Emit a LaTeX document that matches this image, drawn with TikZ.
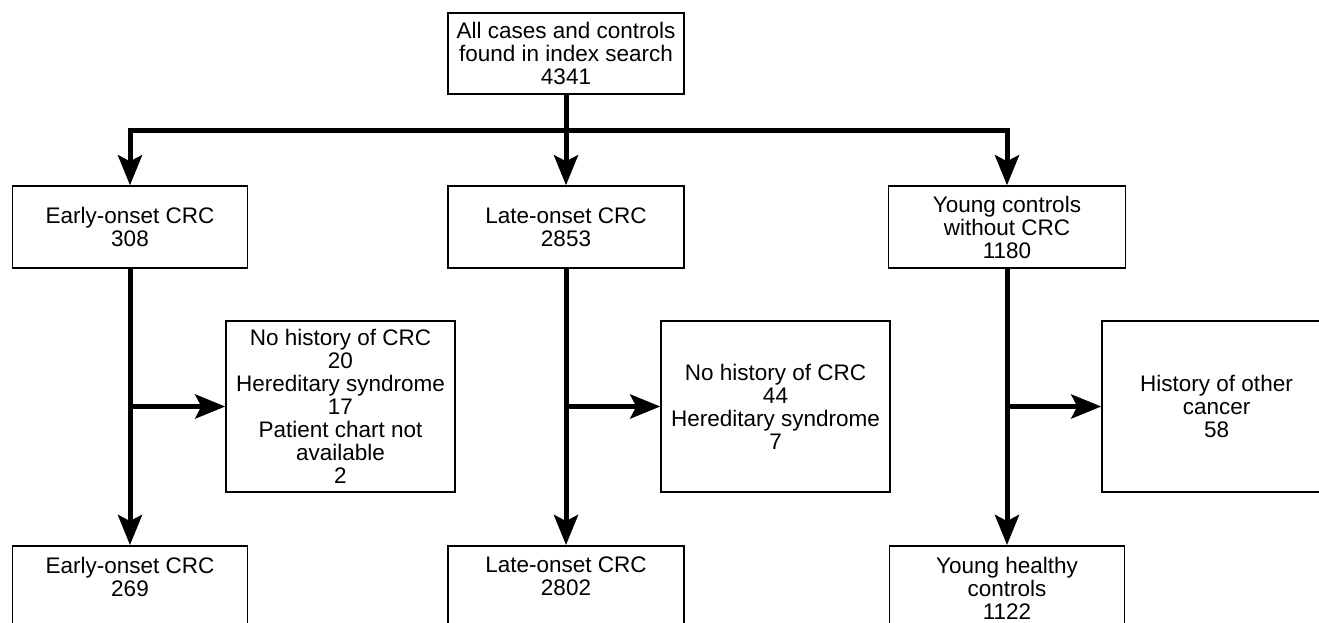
\documentclass[tikz,border=0pt]{standalone}
\usepackage{fontspec}
\setmainfont{Liberation Sans}
\usetikzlibrary{arrows.meta}
\tikzset{
  box/.style={draw=black, line width=1.5pt, rectangle, align=center, inner sep=4pt,
    font=\fontsize{22.5}{23}\selectfont},
  topbox/.style={box, anchor=north, inner ysep=11pt, text depth=50pt},
  conn/.style={line width=5pt, line join=miter},
  tip/.style={-{Stealth[length=30pt,width=24pt,inset=6pt]}},
  bitip/.style={{Stealth[length=30pt,width=24pt,inset=6pt]}-{Stealth[length=30pt,width=24pt,inset=6pt]}}
}
\begin{document}
\begin{tikzpicture}[x=1pt,y=-1pt]
\useasboundingbox (0,0) rectangle (1319,622);
\clip (0,0) rectangle (1319,622);
% top
\node[box, minimum width=236pt, minimum height=81pt] (all) at (566,53.5)
  {All cases and controls\\found in index search\\4341};
% second row
\node[box, minimum width=235pt, minimum height=82pt] (early) at (130,227)
  {Early-onset CRC\\308};
\node[box, minimum width=236pt, minimum height=82pt] (late) at (566,227)
  {Late-onset CRC\\2853};
\node[box, minimum width=237pt, minimum height=82pt] (young) at (1007,227)
  {Young controls\\without CRC\\1180};
% exclusion boxes
\node[box, minimum width=229pt, minimum height=171pt] (exA) at (340.5,406.5)
  {No history of CRC\\20\\Hereditary syndrome\\17\\Patient chart not\\available\\2};
\node[box, minimum width=229pt, minimum height=171pt] (exB) at (775.5,406.5)
  {No history of CRC\\44\\Hereditary syndrome\\7};
\node[box, minimum width=229pt, minimum height=171pt] (exC) at (1216.5,406.5)
  {History of other\\cancer\\58};
% bottom row
\node[topbox, minimum width=235pt] (early2) at (130,545)
  {Early-onset CRC\\269};
\node[topbox, minimum width=236pt] (late2) at (566,545)
  {Late-onset CRC\\2802};
\node[topbox, minimum width=235pt] (young2) at (1007,545)
  {Young healthy\\controls\\1122};
% connectors
\coordinate (hl) at (130,130);
\coordinate (hr) at (1007,130);
\draw[conn, bitip] (early.north) -- (hl) -- (hr) -- (young.north);
\draw[conn, tip] (all.south) -- (late.north);
\draw[conn, tip] (early.south) -- (early2.north);
\draw[conn, tip] (late.south) -- (late2.north);
\draw[conn, tip] (young.south) -- (young2.north);
\coordinate (sA) at (early.south |- exA.west);
\coordinate (sB) at (late.south |- exB.west);
\coordinate (sC) at (young.south |- exC.west);
\draw[conn, tip] (sA) -- (exA.west);
\draw[conn, tip] (sB) -- (exB.west);
\draw[conn, tip] (sC) -- (exC.west);
\end{tikzpicture}
\end{document}
